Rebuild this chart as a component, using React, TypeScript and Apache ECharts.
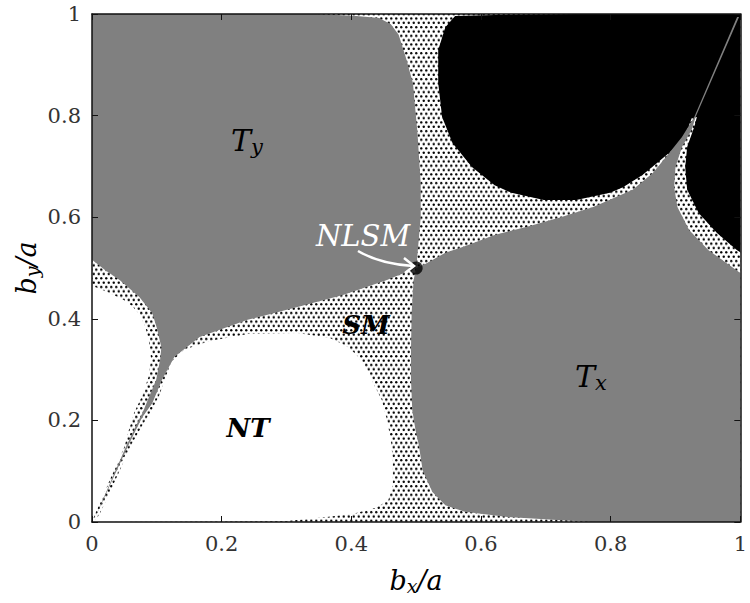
import { useEffect, useRef } from 'react';
import * as echarts from 'echarts';

// ---- data (phase-diagram regions, in b_x/a , b_y/a units) ----
const axisRange = [0, 1];
const planeRegion = [[0, 0], [1, 0], [1, 1], [0, 1]];

const leftGapRegion = [
  [0, 0.465], [0.027, 0.451], [0.049, 0.437], [0.062, 0.425], [0.073, 0.409], [0.082, 0.386],
  [0.088, 0.354], [0.091, 0.323], [0.088, 0.289], [0.078, 0.25], [0.065, 0.215], [0.056, 0.177],
  [0.05, 0.148], [0.034, 0.102], [0.014, 0.043], [0.003, 0.01], [0, 0.002],
];

const ntRegion = [
  [0, 0], [0.301, 0.002], [0.362, 0.01], [0.403, 0.016], [0.438, 0.028], [0.457, 0.043],
  [0.464, 0.073], [0.464, 0.122], [0.461, 0.161], [0.455, 0.201], [0.447, 0.24], [0.435, 0.27],
  [0.423, 0.303], [0.408, 0.329], [0.393, 0.346], [0.367, 0.362], [0.317, 0.372], [0.24, 0.37],
  [0.18, 0.356], [0.142, 0.339], [0.122, 0.315], [0.113, 0.283], [0.104, 0.25], [0.092, 0.22],
  [0.078, 0.191], [0.059, 0.148], [0.043, 0.102], [0.022, 0.043], [0.011, 0.014], [0.003, 0.002],
];

const tyRegion = [
  [0, 1], [0.347, 1], [0.408, 0.996], [0.443, 0.992], [0.461, 0.98], [0.473, 0.959], [0.484, 0.915],
  [0.495, 0.864], [0.502, 0.766], [0.507, 0.667], [0.507, 0.6], [0.502, 0.526], [0.5, 0.5],
  [0.454, 0.476], [0.387, 0.447], [0.317, 0.423], [0.24, 0.398], [0.166, 0.364], [0.127, 0.325],
  [0.108, 0.28], [0.093, 0.234], [0.077, 0.205], [0.055, 0.148], [0.003, 0.004], [0.053, 0.15],
  [0.073, 0.203], [0.078, 0.215], [0.084, 0.234], [0.099, 0.28], [0.105, 0.319], [0.107, 0.344],
  [0.1, 0.382], [0.093, 0.411], [0.073, 0.443], [0.043, 0.476], [0.02, 0.496], [0, 0.516],
];

const txyRegion = [
  [0.56, 0.996], [0.621, 0.998], [0.747, 1], [1, 1], [1, 0.531], [0.995, 0.535], [0.964, 0.569],
  [0.936, 0.608], [0.918, 0.654], [0.915, 0.699], [0.918, 0.738], [0.929, 0.778], [0.933, 0.797],
  [0.925, 0.795], [0.915, 0.762], [0.895, 0.732], [0.872, 0.707], [0.849, 0.683], [0.819, 0.659],
  [0.799, 0.648], [0.747, 0.634], [0.697, 0.634], [0.647, 0.648], [0.621, 0.663], [0.586, 0.699],
  [0.556, 0.746], [0.54, 0.797], [0.534, 0.864], [0.534, 0.929], [0.545, 0.974],
];

const txRegion = [
  [0.5, 0.5], [0.496, 0.476], [0.493, 0.411], [0.492, 0.339], [0.492, 0.28], [0.494, 0.22],
  [0.499, 0.181], [0.504, 0.152], [0.51, 0.102], [0.525, 0.059], [0.545, 0.033], [0.575, 0.02],
  [0.641, 0.01], [0.717, 0.004], [0.773, 0], [1, 0], [1, 0.49], [0.985, 0.504], [0.951, 0.535],
  [0.921, 0.575], [0.903, 0.62], [0.898, 0.659], [0.9, 0.699], [0.91, 0.738], [0.925, 0.772],
  [0.931, 0.797], [0.998, 0.994], [0.995, 0.994], [0.929, 0.797], [0.91, 0.758], [0.89, 0.726],
  [0.865, 0.687], [0.834, 0.654], [0.773, 0.62], [0.723, 0.6], [0.671, 0.581], [0.621, 0.565],
  [0.575, 0.543], [0.545, 0.53], [0.514, 0.508],
];

const nlsmPoint = [[0.5, 0.5]];

// ---- styles ----
const SERIF = 'DejaVu Serif';
const GREY = '#808080';
const TILE_W = 5;
const TILE_H = 8.66;
const dotSvg =
  `<svg xmlns='http://www.w3.org/2000/svg' width='${TILE_W}' height='${TILE_H}' viewBox='0 0 ${TILE_W} ${TILE_H}'>` +
  "<circle cx='1.25' cy='1.2' r='1.2' fill='black'/><circle cx='3.75' cy='5.53' r='1.2' fill='black'/></svg>";
const dotTile = 'data:image/svg+xml;charset=utf-8,' + encodeURIComponent(dotSvg);

function regionSeries(name: string, pts: number[][], style: any, z: number) {
  return {
    type: 'custom',
    name,
    silent: true,
    z,
    data: pts,
    renderItem: (params: any, api: any) => {
      if (params.dataIndex !== 0) return null;
      return {
        type: 'polygon',
        shape: { points: pts.map((p) => api.coord(p)) },
        style,
      };
    },
  };
}

const rich = (color: string, size: number, sub: number, weight = 'normal') => ({
  t: { fontFamily: SERIF, fontStyle: 'italic', fontWeight: weight, fontSize: size, color, lineHeight: size + 4 },
  s: {
    fontFamily: SERIF, fontStyle: 'italic', fontSize: sub, color, lineHeight: size + 4,
    padding: [Math.round(size * 0.45), 0, 0, 0],
  },
});

function axisBase(position: string, showLabel: boolean) {
  return {
    type: 'value',
    min: axisRange[0],
    max: axisRange[1],
    interval: 0.2,
    position,
    z: 10,
    axisLine: { show: true, onZero: false, lineStyle: { color: '#111', width: 1.5 } },
    axisTick: { show: true, inside: true, length: 6, lineStyle: { color: '#111', width: 1 } },
    axisLabel: { show: showLabel, fontFamily: SERIF, fontSize: 21, color: '#333', margin: 11 },
    splitLine: { show: false },
  };
}

export default function App() {
  const ref = useRef<HTMLDivElement>(null);
  useEffect(() => {
    if (!ref.current) return;
    const chart = echarts.init(ref.current, null, { renderer: 'svg' });
    chart.setOption({
      animation: false,
      backgroundColor: '#fff',
      grid: { left: 92, top: 14, right: 1, bottom: 81 },
      xAxis: [axisBase('bottom', true), axisBase('top', false)],
      yAxis: [axisBase('left', true), axisBase('right', false)],
      series: [
        regionSeries('SM', planeRegion, {
          fill: { image: dotTile, repeat: 'repeat', imageWidth: TILE_W, imageHeight: TILE_H },
        }, 1),
        regionSeries('gap', leftGapRegion, { fill: '#fff' }, 2),
        regionSeries('NT', ntRegion, { fill: '#fff' }, 2),
        regionSeries('Txy', txyRegion, { fill: '#000' }, 3),
        regionSeries('Ty', tyRegion, { fill: GREY }, 4),
        regionSeries('Tx', txRegion, { fill: GREY }, 4),
        {
          type: 'scatter',
          name: 'NLSM',
          data: nlsmPoint,
          symbolSize: 13,
          itemStyle: { color: '#000' },
          z: 6,
          silent: true,
        },
      ],
      graphic: [
        { type: 'text', x: 231, y: 140, z: 20, style: { text: '{t|T}{s|y}', rich: rich('#fff', 30, 21), verticalAlign: 'middle' } },
        { type: 'text', x: 556, y: 98, z: 20, style: { text: '{t|T}{s|xy}', rich: rich('#fff', 30, 21), verticalAlign: 'middle' } },
        { type: 'text', x: 575, y: 376, z: 20, style: { text: '{t|T}{s|x}', rich: rich('#fff', 30, 21), verticalAlign: 'middle' } },
        { type: 'text', x: 248, y: 428, z: 20, style: { text: 'NT', fill: '#000', font: `italic bold 26px ${SERIF}`, align: 'center', verticalAlign: 'middle' } },
        { type: 'text', x: 366, y: 325, z: 20, style: { text: 'SM', fill: '#000', font: `italic bold 26px ${SERIF}`, align: 'center', verticalAlign: 'middle' } },
        { type: 'text', x: 363, y: 236, z: 20, style: { text: 'NLSM', fill: '#fff', font: `italic 29px ${SERIF}`, align: 'center', verticalAlign: 'middle' } },
        {
          type: 'bezierCurve', z: 20,
          shape: { x1: 358, y1: 251, cpx1: 380, cpy1: 264, x2: 413, y2: 266 },
          style: { stroke: '#fff', lineWidth: 2.5, fill: null },
        },
        {
          type: 'polyline', z: 20,
          shape: { points: [[404, 258], [414, 266], [405, 273]] },
          style: { stroke: '#fff', lineWidth: 2.5, fill: null },
        },
        { type: 'text', x: 416, y: 580, z: 20, style: { text: '{t|b}{s|x}{t|/a}', rich: rich('#222', 27, 19), align: 'center', verticalAlign: 'middle' } },
        {
          type: 'text', x: 26, y: 268, rotation: Math.PI / 2, z: 20,
          style: { text: '{t|b}{s|y}{t|/a}', rich: rich('#222', 27, 19), align: 'center', verticalAlign: 'middle' },
        },
      ],
    });
    return () => chart.dispose();
  }, []);
  return <div ref={ref} style={{ width: 750, height: 603, position: 'absolute', left: 0, top: 0 }} />;
}
